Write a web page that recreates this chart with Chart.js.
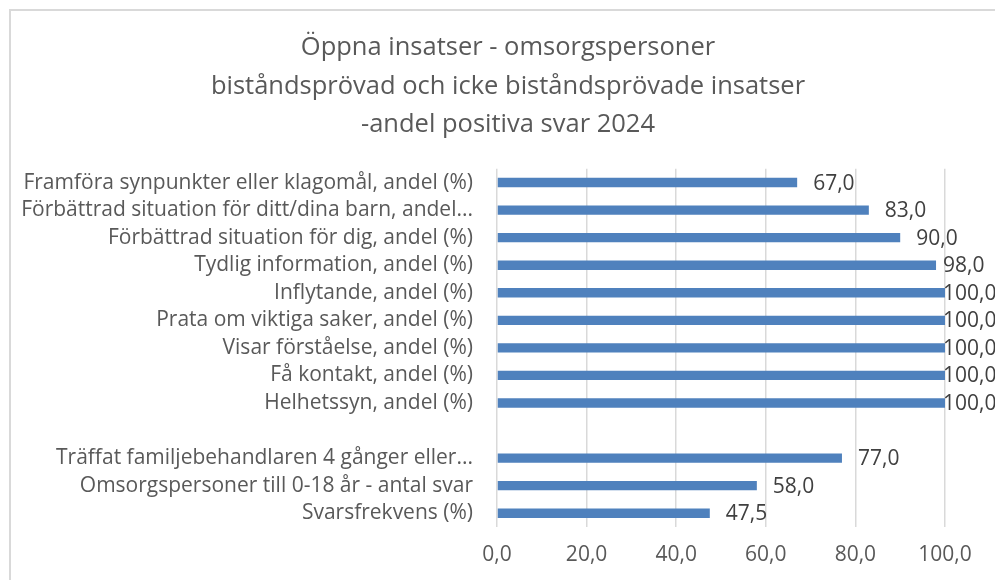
<!DOCTYPE html>
<html>
<head>
<meta charset="utf-8">
<script src="https://cdn.jsdelivr.net/npm/chart.js@4"></script>
<style>
    html, body { margin: 0; padding: 0; background: #fff; }
    #ram { position: absolute; left: 0; top: 0; width: 995px; height: 580px; overflow: hidden; }
    #kant { position: absolute; left: 9px; top: 9px; width: 1100px; height: 700px;
            border-left: 2px solid #d9d9d9; border-top: 2px solid #d9d9d9; }
    canvas { position: absolute; left: 0; top: 0; }
</style>
</head>
<body>
<div id="ram">
    <div id="kant"></div>
    <canvas id="grafico" width="995" height="580"></canvas>
</div>
<script>
// DADOS
const rubrik = [
    'Öppna insatser - omsorgspersoner',
    'biståndsprövad och icke biståndsprövade insatser',
    '-andel positiva svar 2024'
];
const kategorier = [
    'Framföra synpunkter eller klagomål, andel (%)',
    'Förbättrad situation för ditt/dina barn, andel...',
    'Förbättrad situation för dig, andel (%)',
    'Tydlig information, andel (%)',
    'Inflytande, andel (%)',
    'Prata om viktiga saker, andel (%)',
    'Visar förståelse, andel (%)',
    'Få kontakt, andel (%)',
    'Helhetssyn, andel (%)',
    '',
    'Träffat familjebehandlaren 4 gånger eller...',
    'Omsorgspersoner till 0-18 år - antal svar',
    'Svarsfrekvens (%)'
];
const varden = [67, 83, 90, 98, 100, 100, 100, 100, 100, null, 77, 58, 47.5];
const xMin = 0;
const xMax = 100;
const xSteg = 20;

const fonte = '"Open Sans", sans-serif';
const tituloTam = 25.5;
const tituloAltLinha = 1.5;

function formatera(v) {
    return v.toFixed(1).replace('.', ',');
}

// rotulos de dados
const etiquetas = {
    id: 'etiquetas',
    afterDatasetsDraw(chart) {
        const ctx = chart.ctx;
        const meta = chart.getDatasetMeta(0);
        ctx.save();
        ctx.font = '21px ' + fonte;
        ctx.fillStyle = '#404040';
        ctx.textAlign = 'left';
        ctx.textBaseline = 'middle';
        meta.data.forEach(function (bar, i) {
            const v = varden[i];
            if (v === null || v === undefined) return;
            const x = Math.min(bar.x + 16, chart.chartArea.right - 2);
            ctx.fillText(formatera(v), x, bar.y + 1);
        });
        ctx.restore();
    }
};

// titulo deslocado (o grafico original e mais largo que o recorte)
const titulo = {
    id: 'titulo',
    afterDraw(chart) {
        const ctx = chart.ctx;
        const bloco = chart.titleBlock;
        const linha = tituloTam * tituloAltLinha;
        const cx = chart.chartArea.right - 437;
        ctx.save();
        ctx.font = tituloTam + 'px ' + fonte;
        ctx.fillStyle = '#595959';
        ctx.textAlign = 'center';
        ctx.textBaseline = 'middle';
        rubrik.forEach(function (t, i) {
            ctx.fillText(t, cx, bloco.top + 29 + linha * (i + 0.5));
        });
        ctx.restore();
    }
};

const ctx = document.getElementById('grafico').getContext('2d');
new Chart(ctx, {
    type: 'bar',
    data: {
        labels: kategorier,
        datasets: [{
            data: varden,
            backgroundColor: '#4f81bd',
            barPercentage: 0.34,
            categoryPercentage: 1.0
        }]
    },
    options: {
        indexAxis: 'y',
        responsive: false,
        animation: false,
        layout: { padding: { left: 0, right: 50, top: 0, bottom: 0 } },
        plugins: {
            legend: { display: false },
            tooltip: { enabled: false },
            title: {
                display: true,
                text: rubrik,
                color: 'rgba(0,0,0,0)',
                font: { family: fonte, size: tituloTam, weight: 'normal', lineHeight: tituloAltLinha },
                padding: { top: 29, bottom: 25 }
            }
        },
        scales: {
            x: {
                min: xMin,
                max: xMax,
                ticks: {
                    stepSize: xSteg,
                    color: '#595959',
                    font: { family: fonte, size: 21 },
                    padding: 15,
                    callback: function (v) { return formatera(v); }
                },
                grid: { color: '#d9d9d9', lineWidth: 1.5, drawTicks: false },
                border: { display: false },
                afterFit: function (scale) { scale.height = 53; }
            },
            y: {
                ticks: {
                    color: '#595959',
                    font: { family: fonte, size: 21 },
                    padding: 24,
                    autoSkip: false
                },
                grid: { display: false, drawTicks: false },
                border: { display: false },
                afterFit: function (scale) { scale.width = 497; }
            }
        }
    },
    plugins: [etiquetas, titulo]
});
</script>
</body>
</html>
